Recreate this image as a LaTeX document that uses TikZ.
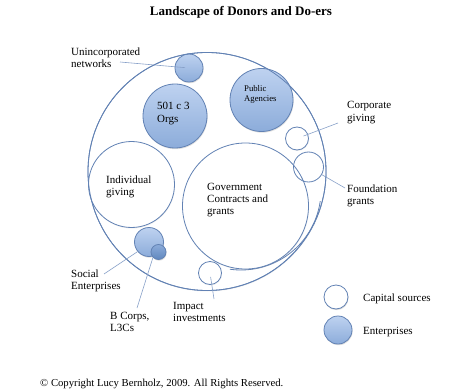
\documentclass[tikz,border=0pt]{standalone}
\usepackage{fontspec}
\setmainfont{Liberation Serif}
\usetikzlibrary{shadows}
\definecolor{ringc}{RGB}{98,130,180}
\definecolor{linkc}{RGB}{135,160,200}
\definecolor{fillA}{RGB}{190,210,240}
\definecolor{fillB}{RGB}{140,172,218}
\definecolor{fillC}{RGB}{140,172,218}
\definecolor{fillD}{RGB}{95,135,190}
\newcommand\lbl[1]{\begin{tabular}[t]{@{}l@{}}#1\end{tabular}}
\begin{document}
\begin{tikzpicture}[x=1pt,y=-1pt,
  ring/.style={draw=ringc, line width=0.8pt},
  plainc/.style={circle, inner sep=0pt, ring},
  capc/.style={plainc, fill=white, drop shadow={opacity=0.12, shadow xshift=0.5pt, shadow yshift=-1pt}},
  entc/.style={plainc, top color=fillA, bottom color=fillB, drop shadow={opacity=0.25, shadow xshift=0.6pt, shadow yshift=-1.2pt}},
  txt/.style={anchor=base west, inner sep=0pt, font=\fontsize{11}{12.2}\selectfont},
  link/.style={draw=linkc, line width=0.6pt}]
\useasboundingbox (0,0) rectangle (449,390);

% title
\node[anchor=base, inner sep=0pt, font=\bfseries\fontsize{13}{15}\selectfont] (title) at (241,16) {Landscape of Donors and Do-ers};

% big circles
\node[capc, minimum size=238pt] (outer) at (207,171.5) {};
\draw[ring] plot[smooth, domain=8:98, samples=40] ({241+80*cos(\x)},{190+80*sin(\x)});
\node[capc, minimum size=126pt] (gov) at (245.5,206) {};
\node[capc, minimum size=86pt] (ind) at (131.5,184.5) {};
\node[capc, minimum size=23pt] (corp) at (297,138.5) {};
\node[capc, minimum size=23pt] (imp) at (210,273) {};

% enterprises
\node[entc, minimum size=28pt] (unl) at (189,68) {};
\node[entc, minimum size=64pt] (c501) at (175,116) {};
\node[entc, minimum size=63pt] (pub) at (261.5,100) {};
\node[entc, minimum size=29pt] (soc) at (149,242) {};
\node[entc, minimum size=15pt, top color=fillC, bottom color=fillD] (bc) at (158.5,252) {};

% outer ring on top, and the crossing foundation circle
\draw[ring] (outer.center) circle[radius=119pt];
\node[plainc, minimum size=30pt] (found) at (308.5,167) {};

% texts in circles
\node[txt] (t501) at (157,110) {\lbl{501 c 3\\Orgs}};
\node[txt, font=\fontsize{8.7}{10}\selectfont] (tpub) at (244,92) {\lbl{Public\\Agencies}};
\node[txt] (tind) at (106,183) {\lbl{Individual\\giving}};
\node[txt] (tgov) at (207,190) {\lbl{Government\\Contracts and\\grants}};

% outside labels
\node[txt] (lunl) at (71,55.5) {\lbl{Unincorporated\\networks}};
\node[txt] (lcorp) at (347,109) {\lbl{Corporate\\giving}};
\node[txt] (lfound) at (347,192) {\lbl{Foundation\\grants}};
\node[txt] (lsoc) at (71,277) {\lbl{Social\\Enterprises}};
\node[txt] (lbc) at (110,319) {\lbl{B Corps,\\L3Cs}};
\node[txt] (limp) at (173,309) {\lbl{Impact\\investments}};

% connectors
\coordinate (cunl) at (120,62);
\coordinate (ccorp) at (338,123);
\coordinate (cfound) at (345,188);
\coordinate (csoc) at (104,274);
\coordinate (cbc) at (137,308);
\coordinate (cimp) at (214,299);
\draw[link, shorten >=4pt] (cunl) -- (unl.center);
\draw[link, shorten >=7pt] (ccorp) -- (corp.center);
\draw[link] (cfound) -- (found);
\draw[link] (csoc) -- (soc.220);
\draw[link] (cbc) -- (bc.south west);
\draw[link, shorten >=4pt] (cimp) -- (imp.center);

% legend
\node[capc, minimum size=24pt, drop shadow={opacity=0.2, shadow xshift=0.5pt, shadow yshift=-1.2pt}] (lgcap) at (336,297) {};
\node[entc, minimum size=28pt] (lgent) at (338,330) {};
\node[txt] (tlgcap) at (363,301.5) {Capital sources};
\node[txt] (tlgent) at (363,334) {Enterprises};

% copyright
\node[txt, font=\fontsize{10.7}{12}\selectfont] (copy) at (40,386) {© Copyright Lucy Bernholz, 2009. All Rights Reserved.};
\end{tikzpicture}
\end{document}
